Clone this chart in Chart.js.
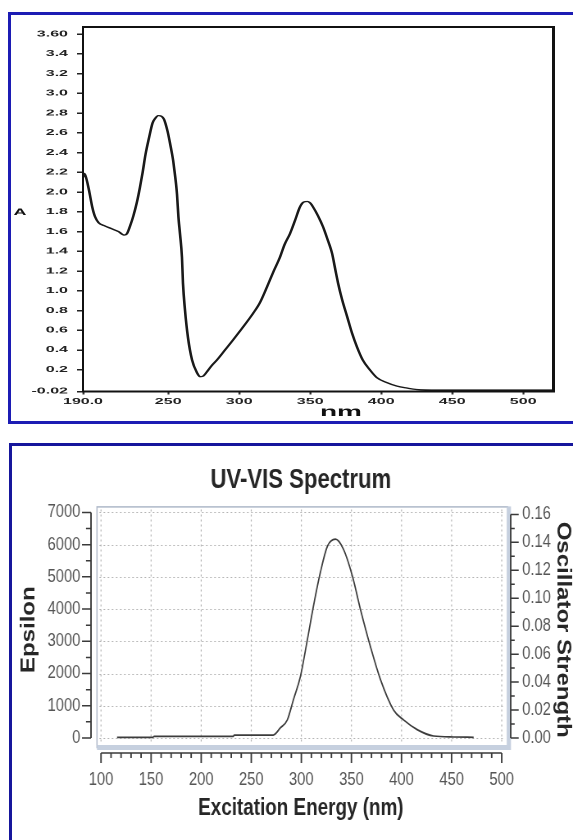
<!DOCTYPE html>
<html lang="en">
<head>
<meta charset="UTF-8">
<title>UV-VIS Spectra</title>
<style>
  body { margin: 0; background: #fff; width: 573px; height: 840px; overflow: hidden; position: relative; }
  .panel { position: absolute; box-sizing: border-box; border: 3px solid #1c1cb4; }
  #panelTop { left: 8px; top: 12px; width: 620px; height: 412px; }
  #panelBottom { left: 9px; top: 443px; width: 620px; height: 420px; border-color: #16169c; }
  canvas { position: absolute; left: 0; }
</style>
</head>
<body>
<div class="panel" id="panelTop"></div>
<div class="panel" id="panelBottom"></div>
<!-- measured spectrum: drawn twice as tall, then squeezed by css -->
<canvas id="absChart" width="573" height="860" style="top:0;width:573px;height:430px"></canvas>
<!-- calculated spectrum: drawn wider, then narrowed by css (condensed lettering) -->
<canvas id="uvChart" width="699" height="400" style="top:440px;width:573px;height:400px"></canvas>

<script src="https://cdn.jsdelivr.net/npm/chart.js"></script>
<script>
// ---- measured absorbance spectrum ----
const absNm = [190, 191, 192.5, 194.5, 196.5, 198.5, 201, 205, 210, 215, 219, 221, 223, 225.5, 228, 230, 232, 234,
  236.5, 239, 241, 243, 245, 247, 249.5, 251.5, 253.5, 255, 256.2, 257.2, 258.3, 259.7, 260.4, 261.8, 263.9,
  266.8, 270.3, 272.4, 274.5, 277.3, 280.5, 284.4, 290, 295.6, 302, 309.7, 314.6, 319.6, 324, 328.7, 332,
  335.8, 339.5, 342.8, 345.5, 348, 350, 352, 355.5, 359, 362, 365.4, 367.5, 369.6, 372.5, 376, 379.5, 383,
  387, 392, 397, 404, 411, 418, 425, 440, 521];
const absValues = [2.15, 2.19, 2.13, 2.0, 1.85, 1.75, 1.69, 1.66, 1.63, 1.6, 1.565, 1.58, 1.65, 1.76, 1.9, 2.04, 2.2, 2.38,
  2.55, 2.7, 2.75, 2.775, 2.77, 2.74, 2.62, 2.48, 2.32, 2.15, 1.98, 1.75, 1.58, 1.34, 1.08, 0.81, 0.53,
  0.3, 0.17, 0.13, 0.135, 0.18, 0.24, 0.3, 0.4, 0.5, 0.62, 0.77, 0.88, 1.04, 1.19, 1.34, 1.47,
  1.58, 1.72, 1.85, 1.9, 1.905, 1.89, 1.85, 1.76, 1.65, 1.53, 1.38, 1.23, 1.08, 0.91, 0.74, 0.57, 0.43,
  0.3, 0.2, 0.12, 0.07, 0.035, 0.015, 0.0, -0.005, -0.005];
const absYTicks = [-0.02, 0.2, 0.4, 0.6, 0.8, 1.0, 1.2, 1.4, 1.6, 1.8, 2.0, 2.2, 2.4, 2.6, 2.8, 3.0, 3.2, 3.4, 3.6];
const absYLabels = ['-0.02', '0.2', '0.4', '0.6', '0.8', '1.0', '1.2', '1.4', '1.6', '1.8', '2.0', '2.2', '2.4',
  '2.6', '2.8', '3.0', '3.2', '3.4', '3.60'];
const absXTicks = [190, 250, 300, 350, 400, 450, 500];
const absXLabels = ['190.0', '250', '300', '350', '400', '450', '500'];

// ---- calculated UV-VIS spectrum ----
const uvNm = [116, 152, 153, 232, 233, 272, 279, 286, 292, 299, 306, 312, 319, 326, 334, 342, 351, 359, 369,
  379, 392, 402, 416, 432, 452, 472];
const uvEpsilon = [20, 20, 50, 50, 90, 90, 310, 560, 1180, 1900, 3050, 4080, 5140, 5950, 6170, 5860, 5020, 3990,
  2830, 1810, 870, 560, 250, 60, 30, 20];
const nmTicks = [100, 150, 200, 250, 300, 350, 400, 450, 500];
const epsTicks = [0, 1000, 2000, 3000, 4000, 5000, 6000, 7000];
const oscTicks = [0, 0.02, 0.04, 0.06, 0.08, 0.10, 0.12, 0.14, 0.16];
const oscLabels = ['0.00', '0.02', '0.04', '0.06', '0.08', '0.10', '0.12', '0.14', '0.16'];

const sans = "'Liberation Sans', Arial, sans-serif";
const boldFont = { family: sans, weight: 'bold', size: 16 };

// black box around the plot plus the "A" / "nm" labels (coordinates are in the tall canvas)
const absFrame = {
  id: 'absFrame',
  afterDraw(chart) {
    const ctx = chart.ctx;
    const a = chart.chartArea;
    ctx.save();
    ctx.fillStyle = '#111';
    ctx.fillRect(a.left - 1, a.top - 3, a.right - a.left + 3, 4);
    ctx.fillRect(a.left - 1, a.bottom - 2, a.right - a.left + 3, 4);
    ctx.fillRect(a.left - 1, a.top - 3, 2, a.bottom - a.top + 5);
    ctx.fillRect(a.right - 1, a.top - 3, 3, a.bottom - a.top + 5);
    ctx.textAlign = 'center';
    ctx.textBaseline = 'alphabetic';
    ctx.font = 'bold 18px ' + sans;
    ctx.fillText('A', 20, 430);
    ctx.font = 'bold 28px ' + sans;
    ctx.fillText('nm', 341, 832);
    ctx.restore();
  }
};

new Chart(document.getElementById('absChart'), {
  type: 'line',
  data: {
    datasets: [{
      data: absNm.map((x, i) => ({ x: x, y: absValues[i] })),
      borderColor: '#1a1a1a',
      borderWidth: 2.6,
      pointRadius: 0,
      cubicInterpolationMode: 'monotone',
      fill: false
    }]
  },
  options: {
    responsive: false,
    devicePixelRatio: 1,
    animation: false,
    layout: { padding: { top: 55, right: 20, left: 0, bottom: 0 } },
    plugins: { legend: { display: false }, tooltip: { enabled: false } },
    scales: {
      x: {
        type: 'linear',
        min: 190,
        max: 521,
        afterBuildTicks: s => { s.ticks = absXTicks.map(v => ({ value: v })); },
        afterFit: s => { s.height = 77; },
        grid: { drawOnChartArea: false, tickLength: 6, tickWidth: 2, tickColor: '#333' },
        border: { display: false },
        ticks: {
          padding: 5,
          color: '#222',
          font: boldFont,
          maxRotation: 0,
          callback: (v, i) => absXLabels[i]
        }
      },
      y: {
        min: -0.02,
        max: 3.668,
        afterBuildTicks: s => { s.ticks = absYTicks.map(v => ({ value: v })); },
        afterFit: s => { s.width = 83; },
        grid: { drawOnChartArea: false, tickLength: 6, tickWidth: 3, tickColor: '#222' },
        border: { display: false },
        ticks: {
          padding: 9,
          color: '#222',
          font: boldFont,
          callback: (v, i) => absYLabels[i]
        }
      }
    }
  },
  plugins: [absFrame]
});

// the uv canvas is shown at 573/699 of its width
const SX = 573 / 699;

// shaded plot frame, dotted grid and detached axis lines with minor ticks
const uvAxes = {
  id: 'uvAxes',
  beforeDatasetsDraw(chart) {
    const ctx = chart.ctx;
    const x = chart.scales.x, y = chart.scales.y;
    const a = chart.chartArea;
    const fl = a.left + 6 / SX, fr = a.right - 3 / SX, ft = a.top, fb = a.bottom - 6;
    ctx.save();
    ctx.strokeStyle = '#aeb8c8';
    ctx.lineWidth = 1.5;
    ctx.strokeRect(fl, ft + 0.5, fr - fl, fb - ft);
    ctx.fillStyle = '#c6d0df';
    ctx.fillRect(fl, fb - 2, fr - fl + 3, 5);
    ctx.fillRect(fr - 1, ft, 5, fb - ft + 3);
    ctx.strokeStyle = '#b4b4b4';
    ctx.lineWidth = 1.2;
    ctx.setLineDash([2, 3]);
    ctx.beginPath();
    nmTicks.forEach(v => {
      const px = x.getPixelForValue(v);
      ctx.moveTo(px, ft + 3);
      ctx.lineTo(px, fb - 3);
    });
    epsTicks.forEach(v => {
      const py = Math.round(y.getPixelForValue(v)) + 0.5;
      ctx.moveTo(fl + 3, py);
      ctx.lineTo(fr - 3, py);
    });
    ctx.stroke();
    ctx.restore();
  },
  afterDraw(chart) {
    const ctx = chart.ctx;
    const {x, y, y2} = chart.scales;
    const a = chart.chartArea;
    ctx.save();
    ctx.strokeStyle = '#3a3a3a';
    // vertical strokes get narrowed by the css scale, so widen them
    ctx.lineWidth = 1.5 / SX;
    ctx.beginPath();
    ctx.moveTo(a.left, y.getPixelForValue(0));
    ctx.lineTo(a.left, y.getPixelForValue(7000));
    ctx.moveTo(a.right, y2.getPixelForValue(0));
    ctx.lineTo(a.right, y2.getPixelForValue(0.16));
    for (let v = 100; v <= 500; v += 10) {
      const px = x.getPixelForValue(v);
      ctx.moveTo(px, a.bottom);
      ctx.lineTo(px, a.bottom + (v % 50 === 0 ? 10 : 5));
    }
    ctx.stroke();
    ctx.lineWidth = 1.5;
    ctx.beginPath();
    ctx.moveTo(x.getPixelForValue(100), a.bottom);
    ctx.lineTo(x.getPixelForValue(500), a.bottom);
    for (let v = 0; v <= 7000; v += 500) {
      const py = y.getPixelForValue(v);
      ctx.moveTo(a.left, py);
      ctx.lineTo(a.left - (v % 1000 === 0 ? 9 : 5) / SX, py);
    }
    for (let k = 0; k <= 16; k++) {
      const py = y2.getPixelForValue(k / 100);
      ctx.moveTo(a.right, py);
      ctx.lineTo(a.right + (k % 2 === 0 ? 8 : 4) / SX, py);
    }
    ctx.stroke();
    ctx.restore();
  }
};

const tickFont = { family: sans, size: 18 };
const titleFont = { family: sans, size: 24, weight: 'bold', lineHeight: 1 };

new Chart(document.getElementById('uvChart'), {
  type: 'line',
  data: {
    datasets: [{
      data: uvNm.map((x, i) => ({ x: x, y: uvEpsilon[i] })),
      yAxisID: 'y',
      borderColor: '#3c3c3c',
      borderWidth: 1.7,
      pointRadius: 0,
      cubicInterpolationMode: 'monotone',
      fill: false
    }]
  },
  options: {
    responsive: false,
    devicePixelRatio: 1,
    animation: false,
    layout: { padding: 0 },
    plugins: {
      legend: { display: false },
      tooltip: { enabled: false },
      title: {
        display: true,
        text: 'UV-VIS Spectrum',
        fullSize: false,
        color: '#262626',
        font: { family: sans, size: 27, weight: 'bold', lineHeight: 1.2 },
        padding: { top: 24, bottom: 10 }
      }
    },
    scales: {
      x: {
        type: 'linear',
        min: 90,
        max: 509,
        afterBuildTicks: s => { s.ticks = nmTicks.map(v => ({ value: v })); },
        afterFit: s => { s.height = 87; },
        grid: { display: false, drawTicks: false },
        border: { display: false },
        ticks: { padding: 16, color: '#555', font: tickFont, maxRotation: 0, callback: v => String(v) },
        title: { display: true, text: 'Excitation Energy (nm)', color: '#262626',
          font: { family: sans, size: 23, weight: 'bold', lineHeight: 1 },
          padding: { top: 0, bottom: 20 } }
      },
      y: {
        position: 'left',
        min: -467,
        max: 7187,
        afterBuildTicks: s => { s.ticks = epsTicks.map(v => ({ value: v })); },
        afterFit: s => { s.width = 111; },
        grid: { display: false, drawTicks: false },
        border: { display: false },
        ticks: { padding: 13, color: '#555', font: tickFont, callback: v => String(v) },
        title: { display: true, text: 'Epsilon', color: '#262626', font: titleFont,
          padding: { top: 23, bottom: 0 } }
      },
      y2: {
        position: 'right',
        min: -0.01076,
        max: 0.16574,
        afterBuildTicks: s => { s.ticks = oscTicks.map(v => ({ value: v })); },
        afterFit: s => { s.width = 76; },
        grid: { display: false, drawTicks: false },
        border: { display: false },
        ticks: { padding: 14, color: '#555', font: tickFont, callback: (v, i) => oscLabels[i] },
        title: { display: true, text: 'Oscillator Strength', color: '#262626', font: titleFont,
          padding: { top: 0, bottom: 0 } }
      }
    }
  },
  plugins: [uvAxes]
});
</script>
</body>
</html>
